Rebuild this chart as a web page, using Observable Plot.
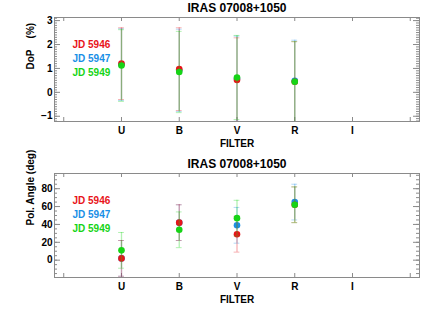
<!DOCTYPE html>
<html>
<head>
<meta charset="utf-8">
<script src="https://cdn.jsdelivr.net/npm/d3@7"></script>
<script src="https://cdn.jsdelivr.net/npm/@observablehq/plot@0.6"></script>
<style>
  html, body { margin: 0; padding: 0; background: #fff; }
  #chart svg { display: block; }
</style>
</head>
<body>
<div id="chart"></div>
<script>
// ---- data ----
const filters = ["U", "B", "V", "R", "I"];
const filterPos = [1, 2, 3, 4, 5];
const seriesNames = ["JD 5946", "JD 5947", "JD 5949"];
const seriesColors = ["#e8141a", "#1a8fe6", "#16d416"];
const drawOrder = [1, 0, 2]; // blue first, then red, then green on top

// Degree of polarisation (%), U B V R
const dop5946 = [1.20, 0.97, 0.52, 0.44];
const dopErr5946 = [1.50, 1.73, 1.76, 1.68];
const dop5947 = [1.16, 0.92, 0.57, 0.48];
const dopErr5947 = [1.50, 1.72, 1.78, 1.70];
const dop5949 = [1.12, 0.85, 0.62, 0.44];
const dopErr5949 = [1.50, 1.70, 1.76, 1.68];

// Polarisation angle (deg), U B V R
const pa5946 = [2, 42, 29, 62];
const paErr5946 = [20, 20, 20, 20];
const pa5947 = [2, 42, 39, 65];
const paErr5947 = [20, 20, 20, 20];
const pa5949 = [11, 34, 47, 62];
const paErr5949 = [20, 20, 20, 20];

const dopMajor = [-1, 0, 1, 2, 3];
const paMajor = [0, 20, 40, 60, 80];
const xTickVals = [0, 1, 2, 3, 4, 5, 6];

// ---- drawing ----
const W = 436, H = 156, ML = 54, MR = 17, MT = 17, MB = 35;
const PW = W - ML - MR, PH = H - MT - MB;
const FRAME = "#8a8a8a";
const FONT = "'Liberation Sans', Arial, Helvetica, sans-serif";

function panel({title, ylabel, yDomain, major, minorStep, vals, errs}) {
  const minor = d3.range(Math.ceil(yDomain[0] / minorStep), Math.floor(yDomain[1] / minorStep) + 1)
    .map(k => +(k * minorStep).toFixed(4));
  const marks = [
    Plot.frame({stroke: FRAME}),
    Plot.tickY(major, {y: d => d, insetRight: PW - 6, stroke: FRAME}),
    Plot.tickY(major, {y: d => d, insetLeft: PW - 6, stroke: FRAME}),
    Plot.tickY(minor, {y: d => d, insetRight: PW - 3, stroke: FRAME}),
    Plot.tickY(minor, {y: d => d, insetLeft: PW - 3, stroke: FRAME}),
    Plot.tickX(xTickVals, {x: d => d, insetTop: PH - 4, stroke: FRAME}),
    Plot.tickX(xTickVals, {x: d => d, insetBottom: PH - 4, stroke: FRAME}),
    Plot.axisY(major, {tickSize: 0, tickPadding: 2, label: null, fontSize: 10, fontWeight: "bold", fill: "#000"}),
    Plot.axisX(filterPos, {tickSize: 0, tickPadding: 5, label: null, tickFormat: d => filters[d - 1], fontSize: 10, fontWeight: "bold", fill: "#000"}),
    Plot.text([title], {frameAnchor: "top", dy: -9, lineAnchor: "middle", fontSize: 12, fontWeight: "bold", fill: "#000"}),
    Plot.text(["FILTER"], {frameAnchor: "bottom", dy: 22, lineAnchor: "middle", fontSize: 10, fontWeight: "bold", fill: "#000"}),
    Plot.text([ylabel], {frameAnchor: "left", dx: -24, rotate: -90, lineAnchor: "middle", fontSize: 10, fontWeight: "bold", fill: "#000"})
  ];
  seriesNames.forEach((name, s) => {
    marks.push(Plot.text([name], {frameAnchor: "top-left", dx: 18, dy: 27 + s * 14, lineAnchor: "middle", textAnchor: "start", fontSize: 10, fontWeight: "bold", fill: seriesColors[s]}));
  });
  drawOrder.forEach(s => {
    const rows = vals[s].map((v, i) => ({x: filterPos[i], y: v, e: errs[s][i]}));
    const c = seriesColors[s];
    marks.push(
      Plot.ruleX(rows, {x: "x", y1: d => d.y - d.e, y2: d => d.y + d.e, stroke: c, strokeOpacity: 0.33, strokeWidth: 1.3, clip: true}),
      Plot.ruleY(rows, {y: d => d.y + d.e, x1: d => d.x - 0.05, x2: d => d.x + 0.05, stroke: c, strokeOpacity: 0.33, clip: true}),
      Plot.ruleY(rows, {y: d => d.y - d.e, x1: d => d.x - 0.05, x2: d => d.x + 0.05, stroke: c, strokeOpacity: 0.33, clip: true}),
      Plot.dot(rows, {x: "x", y: "y", r: 3.3, fill: c, stroke: "none", clip: true})
    );
  });
  return Plot.plot({
    width: W, height: H,
    marginLeft: ML, marginRight: MR, marginTop: MT, marginBottom: MB,
    x: {domain: [-0.16, 6.16], axis: null},
    y: {domain: yDomain, axis: null},
    style: {fontFamily: FONT, background: "#fff", overflow: "visible"},
    marks
  });
}

const chart = document.getElementById("chart");
chart.appendChild(panel({
  title: "IRAS 07008+1050", ylabel: "DoP\u00a0\u00a0\u00a0\u00a0(%)",
  yDomain: [-1.22, 3.13], major: dopMajor, minorStep: 0.1,
  vals: [dop5946, dop5947, dop5949], errs: [dopErr5946, dopErr5947, dopErr5949]
}));
chart.appendChild(panel({
  title: "IRAS 07008+1050", ylabel: "Pol. Angle (deg)",
  yDomain: [-19.4, 97], major: paMajor, minorStep: 5,
  vals: [pa5946, pa5947, pa5949], errs: [paErr5946, paErr5947, paErr5949]
}));
</script>
</body>
</html>
